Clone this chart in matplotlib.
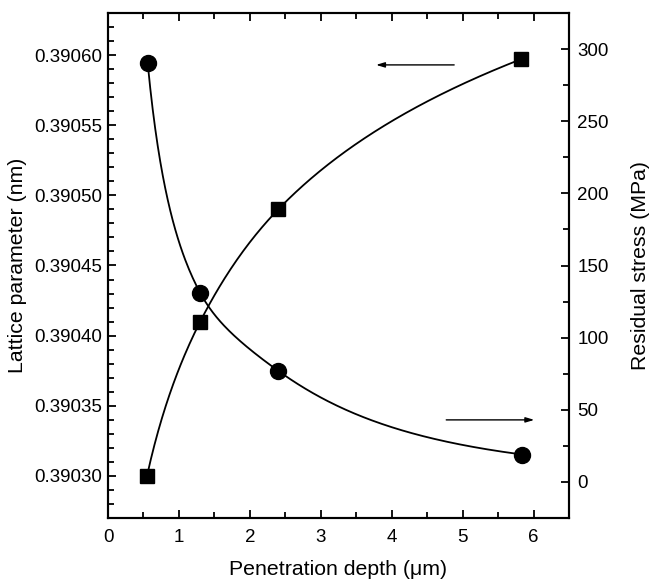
import numpy as np
import matplotlib
matplotlib.use("Agg")
import matplotlib.pyplot as plt
from matplotlib.ticker import MultipleLocator, FormatStrFormatter

plt.rcParams['font.family'] = ['Liberation Sans', 'DejaVu Sans']

depth = [0.55, 1.30, 2.40, 5.82]
lattice = [0.390300, 0.390410, 0.390490, 0.390597]
stress_x = [0.56, 1.30, 2.40, 5.84]
stress = [290, 131, 77, 19]


def pchip(x, y, xn):
    x = np.asarray(x, float); y = np.asarray(y, float)
    h = np.diff(x); d = np.diff(y) / h
    n = len(x); m = np.zeros(n)
    for k in range(1, n - 1):
        if d[k - 1] * d[k] > 0:
            w1 = 2 * h[k] + h[k - 1]; w2 = h[k] + 2 * h[k - 1]
            m[k] = (w1 + w2) / (w1 / d[k - 1] + w2 / d[k])
    m[0] = ((2 * h[0] + h[1]) * d[0] - h[0] * d[1]) / (h[0] + h[1])
    if np.sign(m[0]) != np.sign(d[0]): m[0] = 0
    m[-1] = ((2 * h[-1] + h[-2]) * d[-1] - h[-1] * d[-2]) / (h[-1] + h[-2])
    if np.sign(m[-1]) != np.sign(d[-1]): m[-1] = 0
    idx = np.clip(np.searchsorted(x, xn) - 1, 0, n - 2)
    t = (xn - x[idx]) / h[idx]
    h00 = 2 * t**3 - 3 * t**2 + 1; h10 = t**3 - 2 * t**2 + t
    h01 = -2 * t**3 + 3 * t**2; h11 = t**3 - t**2
    return h00 * y[idx] + h10 * h[idx] * m[idx] + h01 * y[idx + 1] + h11 * h[idx] * m[idx + 1]


fig = plt.figure(figsize=(6.49, 5.82), dpi=100)
ax = fig.add_axes([108 / 649, 1 - 518 / 582, (569 - 108) / 649, (518 - 13) / 582])
ax2 = ax.twinx()

# curves (spline in log-x space)
xs1 = np.linspace(depth[0], depth[-1], 300)
ax.plot(xs1, pchip(np.log(depth), lattice, np.log(xs1)), color='black', lw=1.3)
ax.plot(depth, lattice, 's', color='black', ms=10.5)

xs2 = np.linspace(stress_x[0], stress_x[-1], 300)
ax2.plot(xs2, np.exp(pchip(np.log(stress_x), np.log(stress), np.log(xs2))), color='black', lw=1.3)
ax2.plot(stress_x, stress, 'o', color='black', ms=11.5)

ax.set_xlim(0, 6.5)
ax.set_ylim(0.39027, 0.39063)
ax2.set_ylim(-25, 325)

ax.xaxis.set_major_locator(MultipleLocator(1))
ax.xaxis.set_minor_locator(MultipleLocator(0.5))
ax.yaxis.set_major_locator(MultipleLocator(0.00005))
ax.yaxis.set_minor_locator(MultipleLocator(0.00001))
ax.yaxis.set_major_formatter(FormatStrFormatter('%.5f'))
ax2.yaxis.set_major_locator(MultipleLocator(50))
ax2.yaxis.set_minor_locator(MultipleLocator(25))

for a in (ax, ax2):
    for s in a.spines.values():
        s.set_linewidth(1.5)
ax.tick_params(axis='x', which='both', direction='in', top=True, labelsize=13.5, pad=8)
ax.tick_params(axis='y', which='both', direction='in', labelsize=13.5, pad=4)
ax2.tick_params(axis='y', which='both', direction='in', labelsize=13.5, pad=6)
for a in (ax, ax2):
    a.tick_params(which='major', length=6, width=1.3)
    a.tick_params(which='minor', length=4, width=1.3)

ax.set_xlabel('Penetration depth (μm)', fontsize=15.3, labelpad=10)
ax.set_ylabel('Lattice parameter (nm)', fontsize=15.3, labelpad=5)
ax2.set_ylabel('Residual stress (MPa)', fontsize=15.3, labelpad=16)

ax.annotate('', xy=(3.74, 0.390593), xytext=(4.92, 0.390593),
            arrowprops=dict(arrowstyle='-|>,head_length=0.5,head_width=0.15', color='black', lw=1.0))
ax2.annotate('', xy=(6.05, 43), xytext=(4.73, 43),
             arrowprops=dict(arrowstyle='-|>,head_length=0.5,head_width=0.15', color='black', lw=1.0))

fig.savefig('out.png', dpi=100)
